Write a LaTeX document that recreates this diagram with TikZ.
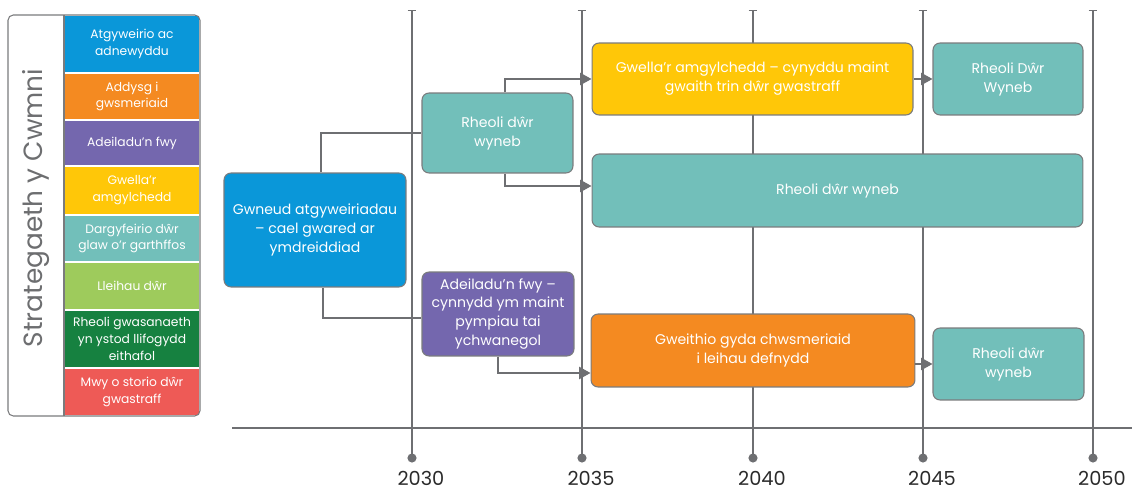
\documentclass[tikz,border=0pt]{standalone}
\usepackage{fontspec}
\setmainfont{Poppins}
\usepackage{tikz}
\usetikzlibrary{arrows.meta, positioning, calc}

\definecolor{cwmblue}{HTML}{0A97D9}
\definecolor{cwmorange}{HTML}{F48A21}
\definecolor{cwmpurple}{HTML}{7467AE}
\definecolor{cwmyellow}{HTML}{FFC708}
\definecolor{cwmteal}{HTML}{72BFBA}
\definecolor{cwmlime}{HTML}{9ECB5C}
\definecolor{cwmgreen}{HTML}{168140}
\definecolor{cwmred}{HTML}{EE5A56}
\definecolor{linegray}{HTML}{6E6F72}
\definecolor{boxline}{HTML}{7A7B7D}
\definecolor{titlegray}{HTML}{6D6E70}
\definecolor{yeartext}{HTML}{2B2B2B}

\begin{document}
\begin{tikzpicture}[x=0.02cm, y=-0.02cm,
	box/.style={draw=boxline, line width=0.6pt, rounded corners=4pt,
		text=white, align=center, inner sep=0pt,
		font=\fontsize{8}{10.8}\selectfont},
	key/.style={draw=white, line width=0.8pt, text=white, align=center,
		inner sep=0pt, minimum width=2.72cm,
		font=\fontsize{7}{9.6}\selectfont},
	link/.style={draw=linegray, line width=0.85pt},
	arrow/.style={link, -{Triangle[length=6.5pt, width=7pt]}},
	tick/.style={draw=linegray, line width=0.85pt, {Bar[width=5pt]}-},
	year/.style={text=yeartext, anchor=base, inner sep=0pt,
		font=\fontsize{11}{13}\selectfont}]
	\useasboundingbox (0,0) rectangle (1134,493);

	% legend
	\begin{scope}
		\clip[rounded corners=3pt] (8,15) rectangle (200,416);
		\node[key, fill=cwmblue, minimum height=1.16cm] (kRepair) at (132,44) {Atgyweirio ac\\adnewyddu};
		\node[key, fill=cwmorange, minimum height=0.94cm] (kAddysg) at (132,96.5) {Addysg i\\gwsmeriaid};
		\node[key, fill=cwmpurple, minimum height=0.92cm] (kAdeiladu) at (132,143) {Adeiladu'n fwy};
		\node[key, fill=cwmyellow, minimum height=0.98cm] (kGwella) at (132,190.5) {Gwella'r\\amgylchedd};
		\node[key, fill=cwmteal, minimum height=0.94cm] (kDargyfeirio) at (132,238.5) {Dargyfeirio dŵr\\glaw o'r garthffos};
		\node[key, fill=cwmlime, minimum height=0.96cm] (kLleihau) at (132,286) {Lleihau dŵr};
		\node[key, fill=cwmgreen, minimum height=1.16cm] (kRheoli) at (132,339) {Rheoli gwasanaeth\\yn ystod llifogydd\\eithafol};
		\node[key, fill=cwmred, minimum height=0.96cm] (kStorio) at (132,392) {Mwy o storio dŵr\\gwastraff};
	\end{scope}
	\draw[boxline, line width=0.6pt, rounded corners=3pt] (8,15) rectangle (200,416);
	\draw[boxline, line width=0.6pt] (64,15) -- (64,416);
	\node[rotate=90, text=titlegray, font=\fontsize{15}{17}\selectfont] (title) at (36,208) {Strategaeth y Cwmni};

	% timeline
	\foreach \yr/\x in {2030/412, 2035/582, 2040/753, 2045/923, 2050/1093} {
		\draw[tick] (\x,10) -- (\x,458);
		\fill[linegray] (\x,458) circle (2.6pt);
		\node[year] (y\yr) at (\x+9,486) {\yr};
	}
	\draw[draw=linegray, line width=1.6pt] (232,428) -- (1132,428);

	% schemes
	\node[box, fill=cwmblue, minimum width=3.64cm, minimum height=2.28cm] (gwneud) at (315,230)
		{Gwneud atgyweiriadau\\– cael gwared ar\\ymdreiddiad};
	\node[box, fill=cwmteal, minimum width=3.02cm, minimum height=1.6cm] (rheoliUn) at (497.5,133)
		{Rheoli dŵr\\wyneb};
	\node[box, fill=cwmpurple, minimum width=3.04cm, minimum height=1.68cm] (adeiladu) at (498,314)
		{Adeiladu'n fwy –\\cynnydd ym maint\\pympiau tai\\ychwanegol};
	\node[box, fill=cwmyellow, minimum width=6.42cm, minimum height=1.44cm] (gwella) at (752.5,79)
		{Gwella'r amgylchedd – cynyddu maint\\gwaith trin dŵr gwastraff};
	\node[box, fill=cwmteal, minimum width=3cm, minimum height=1.44cm] (rheoliDau) at (1008,79)
		{Rheoli Dŵr\\Wyneb};
	\node[box, fill=cwmteal, minimum width=9.82cm, minimum height=1.46cm] (rheoliTri) at (837.5,190.5)
		{Rheoli dŵr wyneb};
	\node[box, fill=cwmorange, minimum width=6.48cm, minimum height=1.46cm] (gweithio) at (753,350.5)
		{Gweithio gyda chwsmeriaid\\i leihau defnydd};
	\node[box, fill=cwmteal, minimum width=3.02cm, minimum height=1.44cm] (rheoliPedwar) at (1008.5,364)
		{Rheoli dŵr\\wyneb};

	% connectors
	\draw[link] ([xshift=0.12cm]gwneud.north) |- (rheoliUn.west);
	\draw[link] ([xshift=0.16cm]gwneud.south) |- ([yshift=-0.08cm]adeiladu.west);
	\draw[arrow] ([xshift=0.15cm]rheoliUn.north) |- (gwella.west);
	\draw[arrow] ([xshift=0.15cm]rheoliUn.south) |- ([yshift=0.09cm]rheoliTri.west);
	\draw[arrow] (adeiladu.south) |- ([yshift=-0.45cm]gweithio.west);
	\draw[arrow] (gwella.east) -- (rheoliDau.west);
	\draw[arrow] (gweithio.east |- rheoliPedwar.west) -- (rheoliPedwar.west);
\end{tikzpicture}
\end{document}
